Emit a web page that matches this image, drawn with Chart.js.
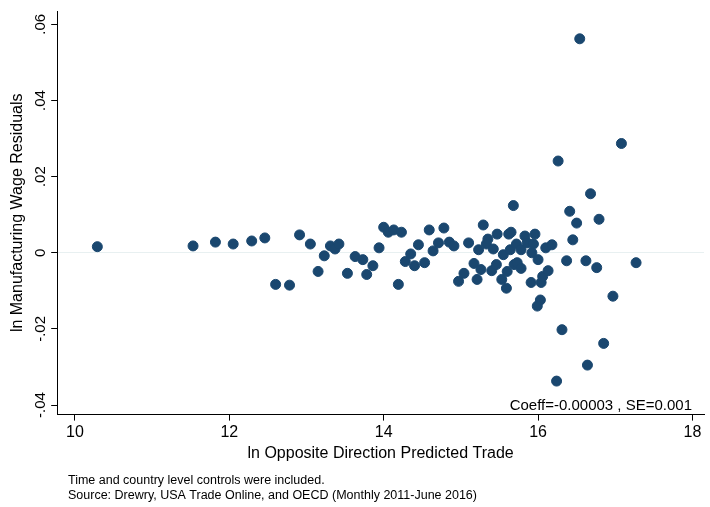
<!DOCTYPE html>
<html><head><meta charset="utf-8">
<script src="https://cdn.jsdelivr.net/npm/chart.js@4"></script>
<style>html,body{margin:0;padding:0;background:#fff}#wrap{width:710px;height:507px}</style>
</head><body><div id="wrap"><canvas id="c"></canvas></div>
<script>
var tradeX = [10.29,11.53,11.82,12.05,12.29,12.46,12.60,12.78,12.91,13.05,13.15,13.23,13.31,13.37,13.42,13.53,13.63,13.73,13.78,13.86,
  13.94,14.00,14.06,14.13,14.23,14.19,14.28,14.35,14.40,14.45,14.53,14.59,14.64,14.71,14.78,14.85,14.91,14.97,15.04,15.10,
  15.17,15.21,15.23,15.26,15.29,15.35,15.33,15.40,15.42,15.46,15.47,15.55,15.53,15.59,15.60,15.62,15.65,15.64,15.68,15.69,
  15.72,15.73,15.78,15.78,15.83,15.86,15.91,15.92,15.94,15.96,16.00,16.04,16.06,16.10,16.13,16.18,16.03,15.99,16.37,16.41,
  16.45,16.50,16.62,16.68,16.76,16.79,16.97,17.27,16.54,17.08,16.26,16.24,16.31,16.64,16.85];
var residY = [.0016,.0018,.0028,.0023,.0031,.0039,-.0083,-.0085,.0047,.0023,-.0049,-.0008,.0018,.0010,.0023,-.0054,-.0010,-.0018,-.0057,-.0034,
  .0013,.0067,.0054,.0060,.0054,-.0083,-.0023,-.0003,-.0034,.0021,-.0026,.0060,.0005,.0026,.0065,.0028,.0018,-.0075,-.0054,.0026,
  -.0028,-.0070,.0008,-.0044,.0073,.0036,.0023,-.0047,.0010,-.0031,.0049,-.0005,-.0070,-.0093,-.0049,.0049,.0054,.0008,.0124,-.0031,
  .0023,-.0026,-.0041,.0008,.0044,.0026,-.0078,.0000,.0023,.0049,-.0018,-.0078,-.0062,.0013,-.0047,.0021,-.0124,-.0140,-.0021,.0109,
  .0034,.0078,-.0021,.0155,-.0039,.0088,-.0114,-.0026,.0562,.0287,.0241,-.0337,-.0202,-.0295,-.0238];
var xTicks = [10,12,14,16,18];
var yTicks = [-0.04,-0.02,0,0.02,0.04,0.06];
var yLabels = ['-.04','-.02','0','.02','.04','.06'];
var notes = ['Time and country level controls were included.','Source: Drewry, USA Trade Online, and OECD (Monthly 2011-June 2016)'];
var pts = tradeX.map(function(x,i){return {x:x,y:residY[i]};});
var FONT = '"Liberation Sans", Arial';

var textPlugin = {
  id:'txt',
  afterDraw:function(chart){
    var ctx = chart.ctx, a = chart.chartArea, ys = chart.scales.y;
    ctx.save();
    ctx.fillStyle = '#000';
    // y tick labels, reading bottom to top
    ctx.font = '15px ' + FONT;
    ctx.textAlign = 'center'; ctx.textBaseline = 'bottom';
    yTicks.forEach(function(v,i){
      ctx.save();
      ctx.translate(a.left - 9, ys.getPixelForValue(v));
      ctx.rotate(-Math.PI/2);
      ctx.fillText(yLabels[i], 0, 0);
      ctx.restore();
    });
    ctx.textAlign = 'right'; ctx.textBaseline = 'bottom';
    ctx.fillText('Coeff=-0.00003 , SE=0.001', a.right - 12, a.bottom - 1);
    ctx.font = '12.5px ' + FONT;
    ctx.textAlign = 'left'; ctx.textBaseline = 'middle';
    ctx.fillText(notes[0], 68, 481);
    ctx.fillText(notes[1], 68, 496);
    ctx.restore();
  }
};

new Chart(document.getElementById('c'), {
  type:'scatter',
  data:{datasets:[{data:pts, backgroundColor:'#1a476f', borderColor:'#1a476f', pointRadius:5, pointHoverRadius:5}]},
  options:{
    responsive:true, maintainAspectRatio:false, animation:false,
    layout:{padding:{left:4,right:0,top:6,bottom:40}},
    plugins:{legend:{display:false}, tooltip:{enabled:false}},
    scales:{
      x:{type:'linear', min:9.77, max:18.15,
        afterBuildTicks:function(s){s.ticks = xTicks.map(function(v){return {value:v};});},
        grid:{color:'rgba(0,0,0,0)', tickColor:'#000', drawTicks:true, tickLength:6},
        border:{color:'#000'},
        ticks:{color:'#000', font:{size:16, family:FONT}, padding:2},
        title:{display:true, text:'ln Opposite Direction Predicted Trade', color:'#000', font:{size:16, family:FONT}, padding:{top:0}}
      },
      y:{type:'linear', min:-0.0425, max:0.0635,
        afterBuildTicks:function(s){s.ticks = yTicks.map(function(v){return {value:v};});},
        grid:{color:function(c){return c.tick && c.tick.value===0 ? '#e8f0f1' : 'rgba(0,0,0,0)';}, tickColor:'#000', drawTicks:true, tickLength:6},
        border:{color:'#000'},
        ticks:{color:'rgba(0,0,0,0)', minRotation:90, maxRotation:90, font:{size:15, family:FONT}, padding:2,
          callback:function(v){var i = yTicks.indexOf(Math.round(v*100)/100); return i<0 ? '' : yLabels[i];}},
        title:{display:true, text:'ln Manufacturing Wage Residuals', color:'#000', font:{size:16, family:FONT}, padding:{bottom:2}}
      }
    }
  },
  plugins:[textPlugin]
});
</script></body></html>
